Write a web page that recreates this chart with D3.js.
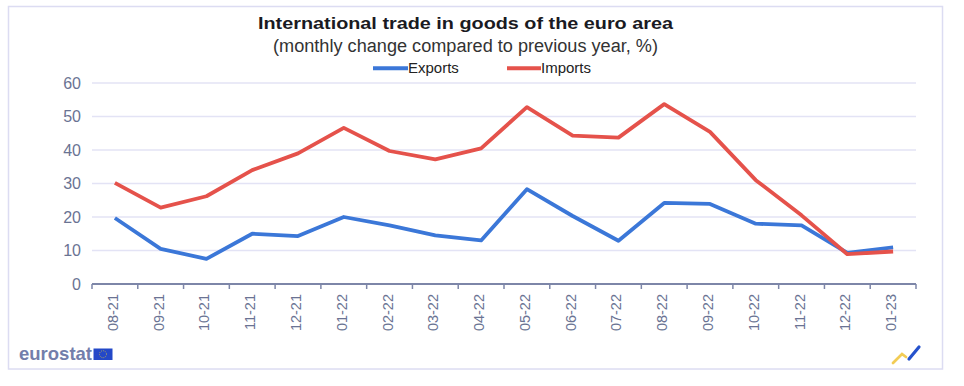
<!DOCTYPE html>
<html>
<head>
<meta charset="utf-8">
<script src="https://cdn.jsdelivr.net/npm/d3@7"></script>
<style>
  body { margin: 0; background: #fff; }
  svg { display: block; font-family: "Liberation Sans", Arial, sans-serif; }
</style>
</head>
<body>
<svg id="drawing_region"></svg>
<script>
const months = ["08-21","09-21","10-21","11-21","12-21","01-22","02-22","03-22","04-22",
                "05-22","06-22","07-22","08-22","09-22","10-22","11-22","12-22","01-23"];
const exports_ = [19.7, 10.5, 7.5, 15.0, 14.3, 20.0, 17.5, 14.5, 13.0,
                  28.3, 20.3, 12.9, 24.2, 23.9, 18.0, 17.5, 9.3, 10.9];
const imports_ = [30.2, 22.8, 26.2, 34.0, 39.0, 46.6, 39.7, 37.2, 40.5,
                  52.8, 44.3, 43.7, 53.7, 45.4, 31.0, 20.5, 8.9, 9.7];
const yticks = [0, 10, 20, 30, 40, 50, 60];

const config = {
    width: 964,
    height: 386,
    margin: {top:83, right:48, bottom:102, left:92}
};

const svg = d3.select('#drawing_region')
    .attr('width', config.width)
    .attr('height', config.height);

// frame
svg.append('rect')
    .attr('x', 8.5).attr('y', 6.5)
    .attr('width', 934).attr('height', 362.5)
    .attr('fill', 'none')
    .attr('stroke', '#dcdcf2')
    .attr('stroke-width', 1.5);

const inner_width = config.width - config.margin.left - config.margin.right;
const inner_height = config.height - config.margin.top - config.margin.bottom;

const chart = svg.append('g')
    .attr('transform', `translate(${config.margin.left}, ${config.margin.top})`);

const xscale = d3.scaleBand()
    .domain(months)
    .range([0, inner_width]);

const yscale = d3.scaleLinear()
    .domain([0, 60])
    .range([inner_height, 0]);

// gridlines
chart.append('g')
    .selectAll('line')
    .data(yticks.filter(d => d > 0))
    .join('line')
    .attr('x1', 0).attr('x2', inner_width)
    .attr('y1', d => yscale(d)).attr('y2', d => yscale(d))
    .attr('stroke', '#e3e3f5')
    .attr('stroke-width', 1.5);

// y axis labels
const yaxis = d3.axisLeft(yscale)
    .tickValues(yticks)
    .tickSize(0)
    .tickPadding(11);
const yaxis_group = chart.append('g').call(yaxis);
yaxis_group.select('.domain').remove();
yaxis_group.selectAll('text')
    .attr('fill', '#6a7393')
    .attr('font-size', '16px')
    .style('font-family', '"Liberation Sans", Arial, sans-serif');

// x axis
const xaxis_group = chart.append('g')
    .attr('transform', `translate(0, ${inner_height})`);
xaxis_group.append('line')
    .attr('x1', 0).attr('x2', inner_width)
    .attr('stroke', '#7d86a8').attr('stroke-width', 2);
xaxis_group.selectAll('line.tick')
    .data(months.concat(['end']))
    .join('line')
    .attr('class', 'tick')
    .attr('x1', (d, i) => i * xscale.step())
    .attr('x2', (d, i) => i * xscale.step())
    .attr('y1', 0).attr('y2', 5)
    .attr('stroke', '#7d86a8').attr('stroke-width', 1.5);
xaxis_group.selectAll('text')
    .data(months)
    .join('text')
    .attr('transform', d => `translate(${xscale(d) + xscale.bandwidth()/2 + 3}, 10) rotate(-90)`)
    .attr('text-anchor', 'end')
    .attr('fill', '#6a7393')
    .attr('font-size', '14.5px')
    .style('font-family', '"Liberation Sans", Arial, sans-serif')
    .text(d => d);

// lines
const line = d3.line()
    .x((d, i) => xscale(months[i]) + xscale.bandwidth()/2)
    .y(d => yscale(d));

const series = [
    {name: 'Exports', values: exports_, color: '#3b77d8'},
    {name: 'Imports', values: imports_, color: '#e5524b'}
];

chart.selectAll('path.series')
    .data(series)
    .join('path')
    .attr('class', 'series')
    .attr('d', d => line(d.values))
    .attr('fill', 'none')
    .attr('stroke', d => d.color)
    .attr('stroke-width', 3.8)
    .attr('stroke-linejoin', 'round');

// title
svg.append('text')
    .attr('x', 258).attr('y', 29)
    .attr('font-size', '17px')
    .attr('font-weight', 'bold')
    .attr('fill', '#1a1a22')
    .attr('textLength', 415)
    .attr('lengthAdjust', 'spacingAndGlyphs')
    .text('International trade in goods of the euro area');

svg.append('text')
    .attr('x', 273).attr('y', 51.5)
    .attr('font-size', '18px')
    .attr('fill', '#333')
    .attr('textLength', 385)
    .attr('lengthAdjust', 'spacingAndGlyphs')
    .text('(monthly change compared to previous year, %)');

// legend
const legend = svg.append('g');
const legendPos = [{x: 373, lw: 35}, {x: 507, lw: 34}];
series.forEach((s, i) => {
    const g = legend.append('g').attr('transform', `translate(${legendPos[i].x}, 68.3)`);
    g.append('line')
        .attr('x1', 0).attr('x2', legendPos[i].lw)
        .attr('y1', 0).attr('y2', 0)
        .attr('stroke', s.color).attr('stroke-width', 4);
    g.append('text')
        .attr('x', legendPos[i].lw).attr('y', 5)
        .attr('font-size', '15px')
        .attr('fill', '#222')
        .text(s.name);
});

// eurostat logo
svg.append('text')
    .attr('x', 19).attr('y', 360)
    .attr('font-size', '18.5px')
    .attr('font-weight', 'bold')
    .attr('fill', '#737eab')
    .text('eurostat');
svg.append('rect')
    .attr('x', 93.5).attr('y', 348.5)
    .attr('width', 19).attr('height', 11.5)
    .attr('fill', '#2348c8');
svg.append('circle')
    .attr('cx', 103).attr('cy', 354.2).attr('r', 3.5)
    .attr('fill', 'none').attr('stroke', '#c9b94a').attr('stroke-width', 0.8)
    .attr('stroke-dasharray', '1 1');

// bottom-right icon
svg.append('path')
    .attr('d', 'M893,363 L902,354 L906,357')
    .attr('fill', 'none').attr('stroke', '#f2cc55').attr('stroke-width', 2.8)
    .attr('stroke-linecap', 'round');
svg.append('path')
    .attr('d', 'M909,359 L919,347')
    .attr('fill', 'none').attr('stroke', '#2552cc').attr('stroke-width', 3.2)
    .attr('stroke-linecap', 'round');
</script>
</body>
</html>
